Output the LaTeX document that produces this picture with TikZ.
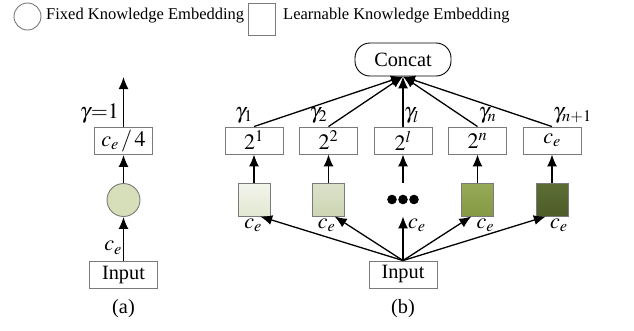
\documentclass[tikz,border=0pt]{standalone}
\usepackage{mathptmx}
\usepackage[no-math]{fontspec}
\setmainfont{Liberation Serif}
\usetikzlibrary{arrows.meta,positioning}

\definecolor{edgegray}{HTML}{7A7A7A}
\definecolor{fixfill}{HTML}{D6DEBA}
\definecolor{lvlaup}{HTML}{F3F5EC}
\definecolor{lvladown}{HTML}{E2E7D2}
\definecolor{lvlbup}{HTML}{DCE2CA}
\definecolor{lvlbdown}{HTML}{CDD5B4}
\definecolor{lvlcup}{HTML}{97AA57}
\definecolor{lvlcdown}{HTML}{859944}
\definecolor{lvldup}{HTML}{5C6D34}
\definecolor{lvlddown}{HTML}{4E5D29}

\tikzstyle{legend} = [font=\fontsize{16.5}{19}\selectfont, inner sep=0pt]
\tikzstyle{value} = [font=\fontsize{20.3}{23}\selectfont]
\tikzstyle{mathvalue} = [font=\fontsize{22}{25}\selectfont]
\tikzstyle{weight} = [mathvalue, inner sep=1pt]
\tikzstyle{box} = [mathvalue, draw=edgegray, line width=0.9pt, minimum width=58pt, minimum height=27pt, inner sep=0pt]
\tikzstyle{inputbox} = [value, draw=edgegray, line width=0.9pt, minimum width=68pt, minimum height=27pt, inner sep=0pt]
\tikzstyle{fixed} = [circle, draw=edgegray, fill=fixfill, line width=0.9pt, minimum size=33pt, inner sep=0pt]
\tikzstyle{learn} = [draw=edgegray, line width=0.9pt, minimum width=32pt, minimum height=33pt, inner sep=0pt]
\tikzstyle{arrowdecorate} = [-{Latex[length=12pt,width=10pt]}, line width=1.3pt]

\begin{document}
\begin{tikzpicture}[x=1pt,y=-1pt]
      \useasboundingbox (0,0) rectangle (634,330);
      %legend
      \node[circle, draw=edgegray, line width=0.9pt, minimum size=27pt, inner sep=0pt] (legfixed) at (27.5,16.5) {};
      \node[legend, anchor=west] (legfixedtext) at (46,15.5) {Fixed Knowledge Embedding};
      \node[learn, minimum width=27pt, minimum height=32pt] (leglearn) at (261.5,19) {};
      \node[legend, anchor=west] (leglearntext) at (283,15.5) {Learnable Knowledge Embedding};
      %part (a)
      \node[inputbox] (ainput) at (123.5,275) {Input};
      \node[fixed] (afixed) at (123.5,200) {};
      \node[box] (adiv) at (123.5,141) {$c_e\,/\,4$};
      \coordinate (aoutput) at (123.5,77);
      \node[value] (alabel) at (123.5,309) {(a)};
      \draw[arrowdecorate] (ainput) -- node[weight, pos=0.3, left] {$c_e$} (afixed);
      \draw[arrowdecorate] (afixed) -- (adiv);
      \draw[arrowdecorate] (adiv) -- node[weight, pos=0.26, left=3pt] {$\gamma{=}1$} (aoutput);
      %part (b) nodes
      \node[value, draw, line width=0.9pt, rounded corners=15pt, minimum width=96pt, minimum height=33pt] (concat) at (403,59.5) {Concat};
      \node[inputbox] (binput) at (403,274.5) {Input};
      \node[value] (blabel) at (403,309) {(b)};
      \foreach \nodename/\x/\expo in {b1/254/2^1, b2/328.5/2^2, b3/403/2^l, b4/477.5/2^n, b5/552/c_e}
      {
        \node[box] (\nodename) at (\x,140.5) {$\expo$};
      };
      \foreach \nodename/\x/\colup/\coldown in {s1/254/lvlaup/lvladown, s2/328.5/lvlbup/lvlbdown, s4/477.5/lvlcup/lvlcdown, s5/552/lvldup/lvlddown}
      {
        \node[learn, top color=\colup, bottom color=\coldown] (\nodename) at (\x,199.5) {};
      };
      \node[learn, draw=none] (dots) at (403,199.5) {};
      \foreach \dx in {-11,0,11}
        \fill ([xshift=\dx pt]dots.center) circle (4.8);
      %part (b) edges
      \path
      \foreach \startnode/\endnode in {s1/b1, s2/b2, dots/b3, s4/b4, s5/b5}
      {
        (\startnode) edge[arrowdecorate] (\endnode)
        (\endnode.north) edge[arrowdecorate] (concat.south)
      };
      \foreach \nodename/\side/\weight in {b1/south east/\gamma_1, b2/south east/\gamma_2, b3/south west/\gamma_l, b4/south west/\gamma_n, b5/south west/\gamma_{n+1}}
      {
        \node[weight, anchor=\side, yshift=2pt] at (\nodename.north) {$\weight$};
      };
      \foreach \endnode/\angle/\side/\shift in {s1/-70/north east/3, s2/-70/north east/2, dots/-90/north west/4, s4/-110/north west/4, s5/-110/north west/3}
      {
        \draw[arrowdecorate] (binput.north) -- (\endnode.\angle);
        \node[weight, anchor=\side, xshift=\shift pt, yshift=-1pt] at (\endnode.\angle) {$c_e$};
      };
\end{tikzpicture}
\end{document}
